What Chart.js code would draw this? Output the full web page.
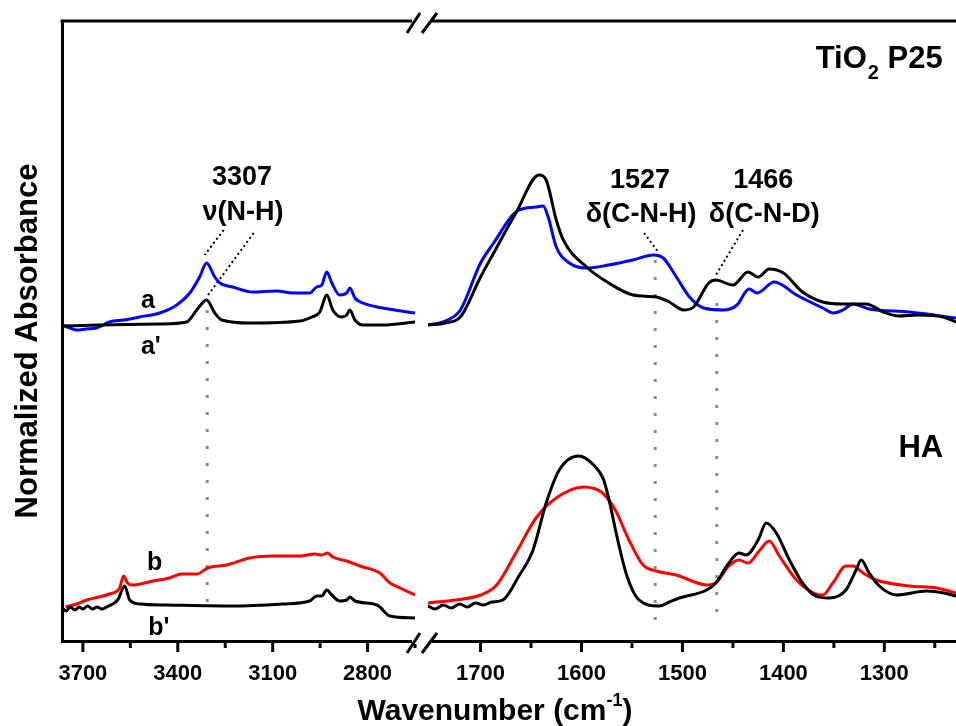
<!DOCTYPE html>
<html>
<head>
<meta charset="utf-8">
<script src="https://cdn.jsdelivr.net/npm/chart.js@4.4.1/dist/chart.umd.min.js"></script>
<style>
  html, body { margin: 0; padding: 0; background: #fff; }
  #wrap { width: 956px; height: 726px; }
</style>
</head>
<body>
<div id="wrap"><canvas id="spectra" width="956" height="726"></canvas></div>
<script>
const FONT = "'Liberation Sans', Arial, Helvetica, sans-serif";

// x windows (cm-1), the axis is broken between them
const highRange = [2628, 3766];
const lowRange = [1229, 1758];
const highTicks = [3700, 3550, 3400, 3250, 3100, 2950, 2800, 2650];
const highLabels = [3700, 3400, 3100, 2800];
const lowTicks = [1700, 1650, 1600, 1550, 1500, 1450, 1400, 1350, 1300, 1250];
const lowLabels = [1700, 1600, 1500, 1400, 1300];

// TiO2 P25, trace a (blue) and a' (black), offset upwards
const aHighWn = [3766, 3740, 3720, 3690, 3657, 3616, 3570, 3521, 3457, 3403, 3362, 3331, 3309, 3283, 3267, 3226, 3163, 3087, 3037, 2983, 2961, 2945, 2929, 2913, 2888, 2866, 2856, 2840, 2815, 2752, 2650];
const aHighAbs = [31.6, 31.3, 31.1, 31.2, 31.3, 31.9, 32.1, 32.4, 32.8, 33.6, 34.8, 36.4, 37.8, 36.4, 35.8, 35.4, 34.9, 35.0, 34.8, 34.8, 35.4, 35.6, 36.9, 35.8, 34.6, 34.8, 35.3, 34.3, 33.8, 33.3, 32.8];
const aPrimeHighWn = [3766, 3650, 3457, 3372, 3340, 3309, 3283, 3261, 3172, 3014, 2976, 2951, 2929, 2910, 2882, 2866, 2856, 2840, 2815, 2752, 2650];
const aPrimeHighAbs = [31.5, 31.6, 31.7, 31.9, 33.1, 34.1, 32.8, 32.1, 31.8, 32.0, 32.4, 32.9, 34.6, 33.1, 32.4, 32.6, 33.1, 32.1, 31.6, 31.6, 31.9];
const aLowWn = [1752, 1735, 1720, 1700, 1687, 1665, 1645, 1638, 1633, 1625, 1612, 1595, 1573, 1549, 1529, 1519, 1506, 1493, 1479, 1459, 1446, 1434, 1426, 1409, 1387, 1361, 1350, 1341, 1331, 1315, 1275, 1229];
const aLowAbs = [31.6, 32.0, 33.1, 37.8, 39.8, 42.9, 43.4, 43.5, 42.4, 39.4, 37.8, 37.3, 37.6, 38.1, 38.6, 38.3, 36.4, 34.4, 33.3, 33.1, 33.6, 35.2, 34.8, 35.9, 34.6, 33.3, 32.8, 33.1, 33.7, 33.2, 32.9, 32.3];
const aPrimeLowWn = [1752, 1735, 1720, 1700, 1687, 1665, 1642, 1635, 1625, 1618, 1595, 1573, 1549, 1526, 1513, 1499, 1489, 1474, 1467, 1450, 1435, 1425, 1414, 1400, 1381, 1361, 1341, 1318, 1301, 1286, 1266, 1242, 1229];
const aPrimeLowAbs = [31.6, 31.8, 32.4, 36.4, 38.8, 42.8, 46.6, 46.1, 42.1, 40.1, 37.4, 35.8, 34.6, 34.4, 33.9, 33.1, 33.4, 35.8, 36.1, 35.6, 36.9, 36.4, 37.2, 36.8, 34.9, 33.9, 33.7, 33.7, 32.9, 32.5, 32.6, 32.4, 31.9];

// HA, trace b (red) and b' (black)
const bHighWn = [3755, 3720, 3688, 3650, 3616, 3584, 3571, 3559, 3543, 3479, 3426, 3388, 3340, 3305, 3245, 3173, 3100, 3014, 2967, 2945, 2926, 2910, 2866, 2824, 2761, 2729, 2697, 2650];
const bHighAbs = [3.4, 3.7, 4.1, 4.4, 4.7, 5.3, 6.5, 5.8, 5.6, 6.0, 6.3, 6.7, 6.7, 7.3, 7.6, 8.3, 8.5, 8.5, 8.7, 8.6, 8.8, 8.4, 8.0, 7.5, 6.8, 5.8, 5.3, 4.6];
const bPrimeHighWn = [3766, 3752, 3740, 3725, 3712, 3700, 3685, 3670, 3655, 3640, 3625, 3590, 3568, 3552, 3520, 3435, 3226, 3068, 2983, 2961, 2945, 2929, 2913, 2888, 2866, 2856, 2840, 2770, 2729, 2650];
const bPrimeHighAbs = [3.3, 3.0, 3.4, 3.1, 3.4, 3.2, 3.5, 3.2, 3.4, 3.2, 3.4, 4.1, 5.5, 4.1, 3.7, 3.6, 3.5, 3.7, 4.0, 4.5, 4.5, 5.1, 4.6, 4.0, 4.1, 4.4, 4.0, 3.6, 2.5, 2.3];
const bLowWn = [1752, 1725, 1700, 1684, 1665, 1645, 1625, 1598, 1579, 1566, 1553, 1539, 1526, 1506, 1493, 1476, 1467, 1454, 1444, 1435, 1424, 1414, 1404, 1387, 1370, 1361, 1351, 1338, 1331, 1321, 1308, 1275, 1248, 1229];
const bLowAbs = [3.8, 4.1, 4.6, 5.6, 8.8, 12.3, 14.3, 15.4, 14.8, 13.0, 10.1, 7.6, 7.0, 6.6, 6.1, 5.6, 5.8, 7.5, 8.1, 7.8, 9.0, 10.0, 8.5, 6.1, 4.8, 4.6, 5.8, 7.5, 7.5, 6.8, 6.1, 5.5, 5.3, 4.8];
const bPrimeLowWn = [1752, 1745, 1737, 1729, 1721, 1713, 1705, 1697, 1689, 1678, 1662, 1648, 1635, 1622, 1603, 1588, 1578, 1572, 1565, 1555, 1543, 1523, 1513, 1503, 1476, 1467, 1454, 1444, 1437, 1425, 1417, 1407, 1394, 1381, 1368, 1355, 1338, 1328, 1323, 1315, 1305, 1288, 1258, 1241, 1229];
const bPrimeLowAbs = [3.5, 3.2, 3.6, 3.3, 3.7, 3.4, 3.8, 3.6, 3.9, 4.1, 6.5, 9.1, 13.8, 17.1, 18.5, 17.6, 16.1, 13.8, 10.5, 6.5, 4.1, 3.5, 3.9, 4.3, 5.1, 5.8, 7.8, 8.8, 8.6, 10.1, 11.8, 10.8, 8.1, 5.8, 4.5, 4.3, 5.1, 7.1, 8.1, 6.8, 5.5, 4.6, 5.0, 4.8, 4.5];

// band positions marked with grey dotted guides
const guideWn = [3307, 1527, 1466];
const guideTop = [33.1, 38.1, 33.8];
const guideBottom = [2.6, 1.0, 1.8];

// leader lines from the band labels down to the peaks: [wn, abs] pairs
const leaders = [
  { axis: 'xL', from: [3255, 41.1], to: [3315, 38.6] },
  { axis: 'xL', from: [3160, 40.8], to: [3309, 34.4] },
  { axis: 'xR', from: [1538, 40.8], to: [1524, 38.9] },
  { axis: 'xR', from: [1440, 41.1], to: [1468, 36.4] }
];

// text placed in data coordinates (centre or left edge, baseline)
const notes = [
  { axis: 'xL', wn: 3197, abs: 45.6, text: '3307', size: 27 },
  { axis: 'xL', wn: 3194, abs: 42.1, text: 'ν(N-H)', size: 27 },
  { axis: 'xR', wn: 1542, abs: 45.3, text: '1527', size: 27 },
  { axis: 'xR', wn: 1541, abs: 41.9, text: 'δ(C-N-H)', size: 27 },
  { axis: 'xR', wn: 1420, abs: 45.3, text: '1466', size: 27 },
  { axis: 'xR', wn: 1419, abs: 41.9, text: 'δ(C-N-D)', size: 27 },
  { axis: 'xL', wn: 3494, abs: 33.3, text: 'a', size: 25 },
  { axis: 'xL', wn: 3485, abs: 28.7, text: "a'", size: 25 },
  { axis: 'xL', wn: 3473, abs: 7.1, text: 'b', size: 25 },
  { axis: 'xL', wn: 3460, abs: 0.6, text: "b'", size: 25 },
  { axis: 'xR', wn: 1286, abs: 18.4, text: 'HA', size: 31, align: 'left' }
];

function pts(wn, abs) {
  return wn.map((w, i) => ({ x: w, y: abs[i] }));
}

function trace(label, wn, abs, color, axis) {
  return {
    label: label,
    data: pts(wn, abs),
    xAxisID: axis,
    yAxisID: 'y',
    borderColor: color,
    borderWidth: 3,
    pointRadius: 0,
    cubicInterpolationMode: 'monotone',
    fill: false
  };
}

function dotted(data, axis, color, width, dash) {
  return {
    data: data,
    xAxisID: axis,
    yAxisID: 'y',
    borderColor: color,
    borderWidth: width,
    borderDash: dash,
    pointRadius: 0,
    tension: 0,
    fill: false
  };
}

const guideSets = guideWn.map((w, i) => dotted(
  [{ x: w, y: guideTop[i] }, { x: w, y: guideBottom[i] }],
  w > 2000 ? 'xL' : 'xR', '#8c8c8c', 3, [3, 14]));

const leaderSets = leaders.map(l => dotted(
  [{ x: l.from[0], y: l.from[1] }, { x: l.to[0], y: l.to[1] }],
  l.axis, '#000', 2, [2, 3]));

function xScale(range, ticks, labels, weight) {
  return {
    type: 'linear',
    position: 'bottom',
    stack: 'wavenumber',
    stackWeight: weight,
    reverse: true,
    min: range[0],
    max: range[1],
    afterBuildTicks: s => { s.ticks = ticks.map(v => ({ value: v })); },
    afterFit: s => { s.height = 46; s.paddingLeft = 0; s.paddingRight = 0; },
    grid: { display: false, drawTicks: false },
    border: { display: true, width: 3, color: '#000' },
    ticks: {
      autoSkip: false,
      maxRotation: 0,
      padding: 20,
      color: '#000',
      font: { family: FONT, size: 22, weight: 'bold' },
      callback: v => labels.includes(v) ? String(v) : ''
    }
  };
}

function drawLine(ctx, x1, y1, x2, y2) {
  ctx.beginPath();
  ctx.moveTo(x1, y1);
  ctx.lineTo(x2, y2);
  ctx.stroke();
}

// frame top, minor/major ticks, the axis break marks and all the text
const decorations = {
  id: 'decorations',
  afterDraw(chart) {
    const { ctx, chartArea: area, scales } = chart;
    const xL = scales.xL, xR = scales.xR, y = scales.y;
    ctx.save();
    ctx.strokeStyle = '#000';
    ctx.lineWidth = 3;
    drawLine(ctx, area.left - 1.5, area.top, area.right, area.top);

    [[xL, highTicks, highLabels], [xR, lowTicks, lowLabels]].forEach(([s, ticks, majors]) => {
      ticks.forEach(v => {
        const x = s.getPixelForValue(v);
        drawLine(ctx, x, area.bottom, x, area.bottom + (majors.includes(v) ? 11 : 7));
      });
    });

    const bx = xL.right;
    [area.top, area.bottom].forEach(yy => {
      ctx.fillStyle = '#fff';
      ctx.fillRect(bx - 10, yy - 3, 20, 6);
      drawLine(ctx, bx - 15, yy + 12, bx - 2, yy - 8);
      drawLine(ctx, bx, yy + 12, bx + 15, yy - 8);
    });

    ctx.fillStyle = '#000';
    ctx.textBaseline = 'alphabetic';
    notes.forEach(n => {
      ctx.font = `bold ${n.size}px ${FONT}`;
      ctx.textAlign = n.align || 'center';
      ctx.fillText(n.text, scales[n.axis].getPixelForValue(n.wn), y.getPixelForValue(n.abs));
    });

    // TiO2 P25 with subscript
    ctx.textAlign = 'left';
    let tx = xR.getPixelForValue(1368);
    const ty = y.getPixelForValue(57.3);
    ctx.font = `bold 31px ${FONT}`;
    ctx.fillText('TiO', tx, ty);
    tx += ctx.measureText('TiO').width + 1;
    ctx.font = `bold 20px ${FONT}`;
    ctx.fillText('2', tx, ty + 11);
    tx += ctx.measureText('2').width;
    ctx.font = `bold 31px ${FONT}`;
    ctx.fillText(' P25', tx, ty);

    // x axis title with superscript
    const main = 'Wavenumber (cm', sup = '-1', tail = ')';
    ctx.font = `bold 30px ${FONT}`;
    const wMain = ctx.measureText(main).width, wTail = ctx.measureText(tail).width;
    ctx.font = `bold 18px ${FONT}`;
    const wSup = ctx.measureText(sup).width;
    let x0 = 495 - (wMain + wSup + wTail) / 2;
    ctx.font = `bold 30px ${FONT}`;
    ctx.fillText(main, x0, 720);
    x0 += wMain;
    ctx.font = `bold 18px ${FONT}`;
    ctx.fillText(sup, x0, 706);
    x0 += wSup;
    ctx.font = `bold 30px ${FONT}`;
    ctx.fillText(tail, x0, 720);

    // y axis title
    ctx.translate(37, 341);
    ctx.rotate(-Math.PI / 2);
    ctx.textAlign = 'center';
    ctx.font = `bold 31px ${FONT}`;
    ctx.fillText('Normalized Absorbance', 0, 0);
    ctx.restore();
  }
};

new Chart(document.getElementById('spectra'), {
  type: 'line',
  data: {
    datasets: [
      trace("a'", aPrimeHighWn, aPrimeHighAbs, '#000', 'xL'),
      trace("a'", aPrimeLowWn, aPrimeLowAbs, '#000', 'xR'),
      trace("b'", bPrimeHighWn, bPrimeHighAbs, '#000', 'xL'),
      trace("b'", bPrimeLowWn, bPrimeLowAbs, '#000', 'xR'),
      trace('a', aHighWn, aHighAbs, '#0000ff', 'xL'),
      trace('a', aLowWn, aLowAbs, '#0000ff', 'xR'),
      trace('b', bHighWn, bHighAbs, '#ff0000', 'xL'),
      trace('b', bLowWn, bLowAbs, '#ff0000', 'xR'),
      ...leaderSets,
      ...guideSets
    ]
  },
  options: {
    responsive: false,
    animation: false,
    events: [],
    layout: { padding: { left: 62, top: 21, right: 0, bottom: 39 } },
    plugins: { legend: { display: false }, tooltip: { enabled: false } },
    scales: {
      xL: xScale(highRange, highTicks, highLabels, 360),
      xR: xScale(lowRange, lowTicks, lowLabels, 534),
      y: {
        type: 'linear',
        position: 'left',
        min: 0,
        max: 62,
        afterFit: s => { s.width = 0; },
        ticks: { display: false },
        grid: { display: false },
        border: { display: true, width: 3, color: '#000' }
      }
    }
  },
  plugins: [decorations]
});
</script>
</body>
</html>
